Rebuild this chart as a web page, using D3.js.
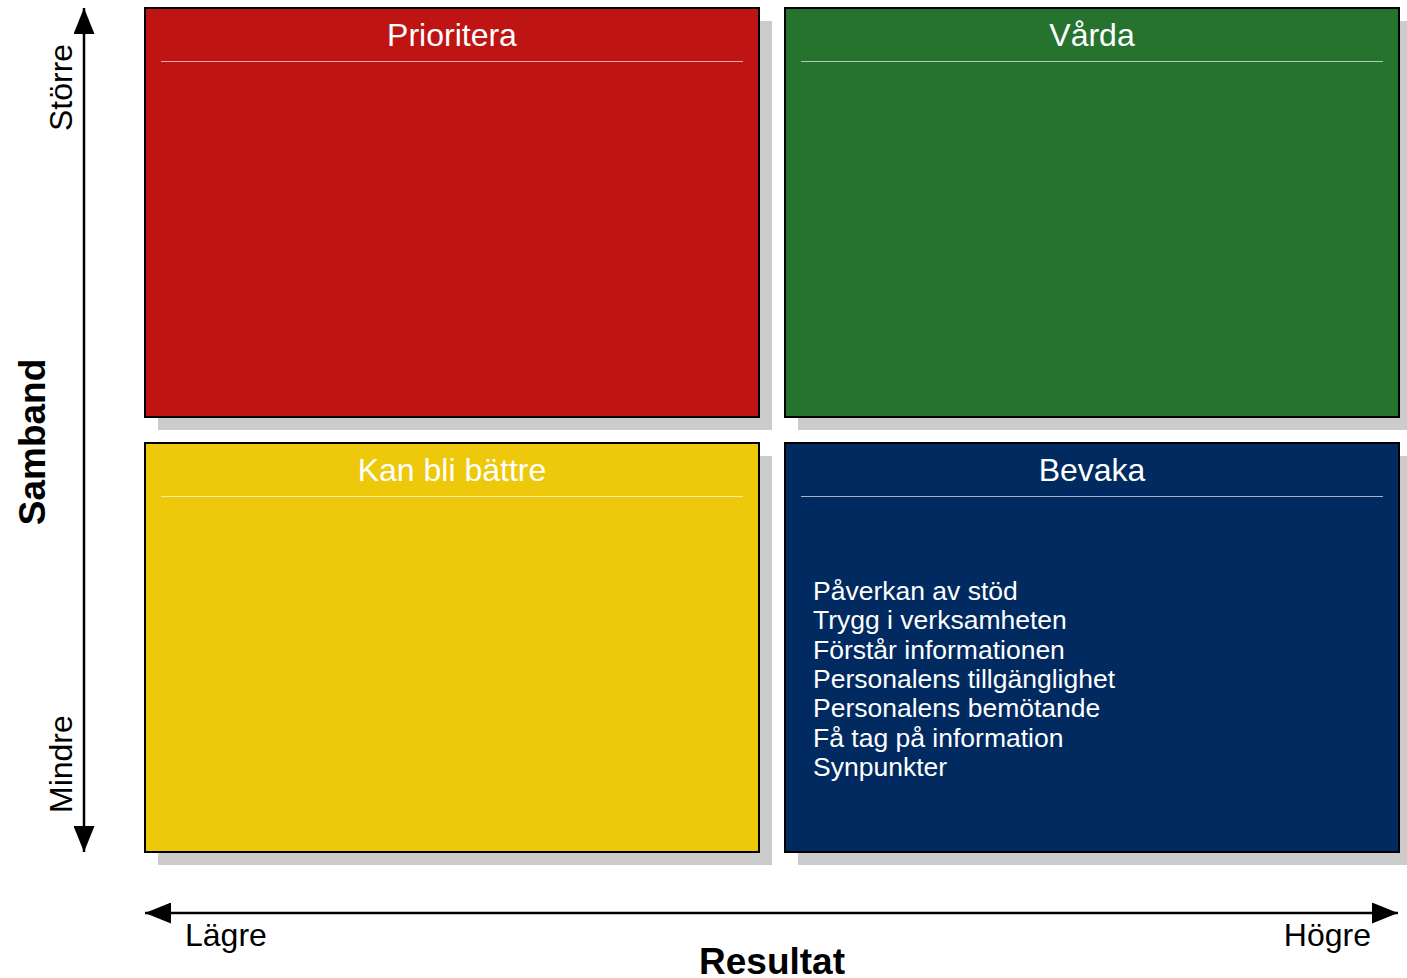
<!DOCTYPE html>
<html>
<head>
<meta charset="utf-8">
<script src="https://cdn.jsdelivr.net/npm/d3@7"></script>
<style>
  body { margin: 0; background: #fff; }
  text { font-family: "Liberation Sans", Arial, sans-serif; }
</style>
</head>
<body>
<script>
const width = 1407;
const height = 978;

// quadrant data
const columns = ["Lägre", "Högre"];
const rows = ["Större", "Mindre"];
const quadrants = [
  { name: "Prioritera", col: "Lägre", row: "Större", color: "#be1414" },
  { name: "Vårda", col: "Högre", row: "Större", color: "#267330" },
  { name: "Kan bli bättre", col: "Lägre", row: "Mindre", color: "#eec80a" },
  { name: "Bevaka", col: "Högre", row: "Mindre", color: "#002a60" }
];
const bevakaItems = [
  "Påverkan av stöd",
  "Trygg i verksamheten",
  "Förstår informationen",
  "Personalens tillgänglighet",
  "Personalens bemötande",
  "Få tag på information",
  "Synpunkter"
];
const itemsByQuadrant = {
  "Prioritera": [],
  "Vårda": [],
  "Kan bli bättre": [],
  "Bevaka": bevakaItems
};
const xTitle = "Resultat";
const yTitle = "Samband";

const x = d3.scaleBand()
  .domain(columns)
  .range([145, 1399])
  .paddingInner(26 / 640);

const y = d3.scaleBand()
  .domain(rows)
  .range([8, 852])
  .paddingInner(26 / 435);

const svg = d3.select("body").append("svg")
  .attr("width", width)
  .attr("height", height);

const defs = svg.append("defs");
defs.append("marker")
  .attr("id", "head")
  .attr("viewBox", "0 0 26 21")
  .attr("refX", 26)
  .attr("refY", 10.5)
  .attr("markerWidth", 26)
  .attr("markerHeight", 21)
  .attr("markerUnits", "userSpaceOnUse")
  .attr("orient", "auto-start-reverse")
  .append("path")
    .attr("d", "M0,0L26,10.5L0,21Z")
    .attr("fill", "#000");

const shadowOffset = 13;

const q = svg.selectAll("g.quad")
  .data(quadrants)
  .enter()
  .append("g")
    .attr("class", "quad")
    .attr("transform", (d) => `translate(${x(d.col)},${y(d.row)})`);

q.append("rect")
  .attr("x", shadowOffset)
  .attr("y", shadowOffset)
  .attr("width", x.bandwidth())
  .attr("height", y.bandwidth())
  .attr("fill", "#cccccc");

q.append("rect")
  .attr("width", x.bandwidth())
  .attr("height", y.bandwidth())
  .attr("fill", (d) => d.color)
  .attr("stroke", "#000")
  .attr("stroke-width", 2);

q.append("text")
  .attr("x", x.bandwidth() / 2)
  .attr("y", 38)
  .attr("text-anchor", "middle")
  .attr("fill", "#fff")
  .style("font-size", "32px")
  .text((d) => d.name);

q.append("line")
  .attr("x1", 16)
  .attr("x2", x.bandwidth() - 16)
  .attr("y1", 53.5)
  .attr("y2", 53.5)
  .attr("stroke", "rgba(255,255,255,0.65)")
  .attr("stroke-width", 1.2);

const lineStep = 29.3;
q.append("text")
  .attr("fill", "#fff")
  .style("font-size", "26.5px")
  .selectAll("tspan")
  .data((d) => itemsByQuadrant[d.name])
  .enter()
  .append("tspan")
    .attr("x", 28)
    .attr("y", (d, i) => 157 + i * lineStep)
    .text((d) => d);

// vertical axis arrow
svg.append("line")
  .attr("x1", 84).attr("x2", 84)
  .attr("y1", 8).attr("y2", 852)
  .attr("stroke", "#000")
  .attr("stroke-width", 2.5)
  .attr("marker-start", "url(#head)")
  .attr("marker-end", "url(#head)");

// horizontal axis arrow
svg.append("line")
  .attr("x1", 145).attr("x2", 1398)
  .attr("y1", 913).attr("y2", 913)
  .attr("stroke", "#000")
  .attr("stroke-width", 2.5)
  .attr("marker-start", "url(#head)")
  .attr("marker-end", "url(#head)");

svg.append("text")
  .attr("transform", "translate(72,131) rotate(-90)")
  .attr("text-anchor", "start")
  .style("font-size", "32px")
  .text(rows[0]);

svg.append("text")
  .attr("transform", "translate(72,813) rotate(-90)")
  .attr("text-anchor", "start")
  .style("font-size", "32px")
  .text(rows[1]);

svg.append("text")
  .attr("transform", "translate(45,442) rotate(-90)")
  .attr("text-anchor", "middle")
  .style("font-size", "37px")
  .style("font-weight", "bold")
  .text(yTitle);

svg.append("text")
  .attr("x", 185)
  .attr("y", 946)
  .style("font-size", "32px")
  .text(columns[0]);

svg.append("text")
  .attr("x", 1371)
  .attr("y", 946)
  .attr("text-anchor", "end")
  .style("font-size", "32px")
  .text(columns[1]);

svg.append("text")
  .attr("x", 772)
  .attr("y", 974)
  .attr("text-anchor", "middle")
  .style("font-size", "37px")
  .style("font-weight", "bold")
  .text(xTitle);
</script>
</body>
</html>
